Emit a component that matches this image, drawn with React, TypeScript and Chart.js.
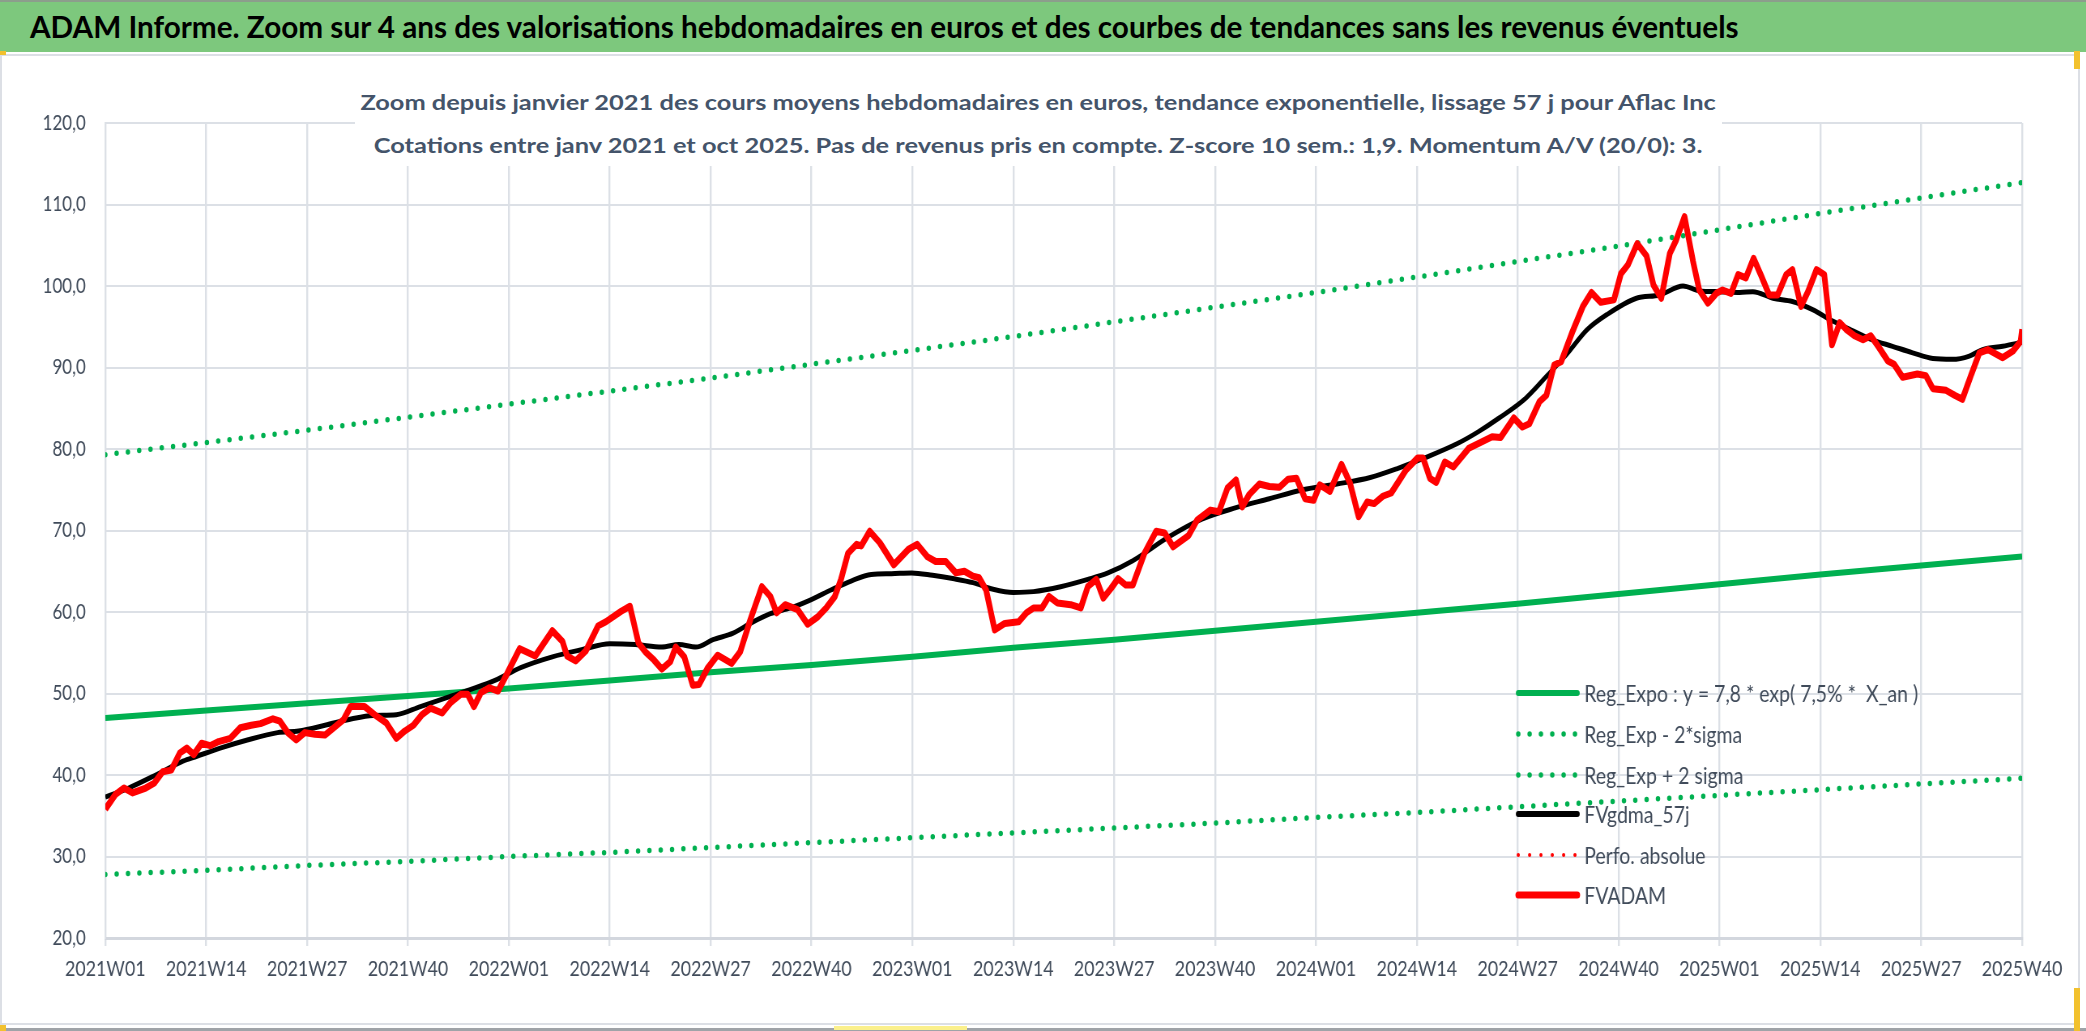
import { Chart, registerables } from 'chart.js';
import { useEffect, useRef } from 'react';

Chart.register(...registerables);

// tick labels, one every 13 weeks (index 0 .. 247)
const weekLabels = [
  '2021W01', '2021W14', '2021W27', '2021W40',
  '2022W01', '2022W14', '2022W27', '2022W40',
  '2023W01', '2023W14', '2023W27', '2023W40',
  '2024W01', '2024W14', '2024W27', '2024W40',
  '2025W01', '2025W14', '2025W27', '2025W40',
];
const tickWeeks = [0, 13, 26, 39, 52, 65, 78, 91, 104, 117, 130, 143, 156, 169, 182, 195, 208, 221, 234, 247];

// regression curves read at each tick
const regExpo = [47.0, 47.9, 48.8, 49.7, 50.6, 51.6, 52.6, 53.5, 54.5, 55.6, 56.6, 57.7, 58.8, 59.9, 61.0, 62.2, 63.4, 64.6, 65.7, 66.8];
const regLow = [27.8, 28.3, 28.9, 29.4, 30.0, 30.5, 31.1, 31.7, 32.3, 32.9, 33.5, 34.1, 34.8, 35.4, 36.1, 36.8, 37.5, 38.2, 38.9, 39.6];
const regHigh = [79.3, 80.8, 82.3, 83.9, 85.5, 87.1, 88.7, 90.4, 92.1, 93.8, 95.6, 97.4, 99.2, 101.1, 103.0, 104.9, 106.9, 108.9, 110.8, 112.7];

// FVADAM weekly valuations
const adamWeeks = [
  0, 1.3, 2.4, 3.5, 5.2, 6.3, 7.4, 8.5, 9.6, 10.5, 11.4, 12.4, 13.5, 14.6, 16.1, 17.4, 18.8, 20, 21.6, 22.5,
  23.5, 24.6, 25.7, 27, 28.3, 29.7, 30.7, 31.6, 33.4, 34.7, 36.2, 37.5, 38.6, 39.7, 40.8, 41.9, 43.4, 44.5, 45.8, 46.7,
  47.5, 48.4, 49.5, 50.6, 51.7, 53.4, 55.4, 57.6, 58.9, 59.5, 60.6, 61.9, 63.5, 64.5, 66.5, 67.6, 68.7, 69.6, 70.7, 71.7,
  72.8, 73.5, 74.6, 75.7, 76.5, 77.6, 78.9, 80.7, 81.8, 83.1, 84.6, 85.7, 86.5, 87.6, 89.2, 90.5, 91.8, 92.9, 94, 94.8,
  95.7, 96.8, 97.4, 98.5, 99.8, 101.6, 103.5, 104.6, 105.9, 107, 108.3, 109.6, 110.7, 111.8, 112.6, 113.5, 114.6, 115.9, 117.7, 118.7,
  119.6, 120.7, 121.6, 122.7, 124.4, 125.7, 126.6, 127.7, 128.6, 129.6, 130.5, 131.5, 132.4, 133.9, 135.4, 136.5, 137.6, 139.6, 140.7, 142.4,
  143.5, 144.6, 145.7, 146.5, 147.4, 148.7, 150, 151.3, 152.4, 153.5, 154.6, 155.7, 156.5, 157.8, 159.3, 160.4, 161.5, 162.6, 163.5, 164.6,
  165.7, 167.6, 169.1, 169.8, 170.7, 171.5, 172.6, 173.7, 175.7, 177.4, 178.7, 179.8, 181.5, 182.6, 183.5, 184.8, 185.7, 186.7, 187.6, 189.1,
  190.4, 191.5, 192.7, 194.4, 195.3, 196.2, 197.4, 198.6, 199.5, 200.5, 201.6, 202.4, 203.5, 204.6, 205.4, 206.5, 207.6, 208.4, 209.5, 210.4,
  211.4, 212.4, 213.4, 214.4, 215.5, 216.6, 217.4, 218.5, 219.4, 220.5, 221.5, 222.5, 223.5, 224.3, 225.4, 226.5, 227.5, 228.6, 229.7, 230.5,
  231.6, 233.5, 234.6, 235.5, 237.2, 238.3, 239.3, 240.4, 241.5, 242.6, 244.5, 245.8, 246.8, 247,
];
const adamValues = [
  35.8, 37.6, 38.4, 37.8, 38.4, 39.0, 40.4, 40.6, 42.7, 43.3, 42.5, 43.9, 43.6, 44.1, 44.5, 45.8, 46.1, 46.3, 46.9, 46.6,
  45.2, 44.3, 45.2, 45.0, 44.9, 46.0, 46.8, 48.4, 48.4, 47.4, 46.4, 44.5, 45.4, 46.1, 47.4, 48.2, 47.6, 48.9, 49.9, 49.9,
  48.4, 50.1, 50.7, 50.3, 52.3, 55.5, 54.6, 57.7, 56.4, 54.6, 54.0, 55.2, 58.3, 58.8, 60.1, 60.7, 56.2, 55.1, 54.1, 53.0,
  53.9, 55.7, 54.5, 51.0, 51.1, 53.1, 54.7, 53.7, 55.1, 59.0, 63.1, 61.9, 59.9, 60.9, 60.3, 58.5, 59.4, 60.5, 61.9, 64.0,
  67.2, 68.3, 68.1, 69.9, 68.5, 65.8, 67.7, 68.3, 66.8, 66.2, 66.2, 64.8, 65.0, 64.4, 64.2, 62.7, 57.8, 58.6, 58.8, 59.9,
  60.5, 60.5, 61.9, 61.1, 60.9, 60.5, 63.1, 64.0, 61.7, 62.9, 64.1, 63.3, 63.3, 67.2, 69.9, 69.7, 68.0, 69.4, 71.3, 72.5,
  72.3, 75.2, 76.2, 72.9, 74.4, 75.7, 75.4, 75.3, 76.3, 76.4, 73.9, 73.7, 75.6, 74.8, 78.1, 75.8, 71.7, 73.5, 73.3, 74.2,
  74.6, 77.4, 78.9, 78.9, 76.4, 75.9, 78.4, 77.8, 80.1, 80.9, 81.5, 81.4, 83.8, 82.7, 83.1, 85.8, 86.6, 90.3, 90.7, 94.5,
  97.5, 99.2, 98.0, 98.3, 101.5, 102.6, 105.2, 103.7, 100.1, 98.5, 104.0, 105.6, 108.5, 103.0, 99.5, 97.9, 99.1, 99.5, 99.1, 101.4,
  101.0, 103.4, 101.2, 98.9, 98.9, 101.4, 102.0, 97.5, 99.3, 102.0, 101.4, 92.8, 95.5, 94.7, 93.9, 93.4, 93.9, 92.4, 90.8, 90.4,
  88.8, 89.2, 89.0, 87.4, 87.2, 86.6, 86.1, 89.0, 91.8, 92.2, 91.2, 92.0, 93.2, 94.7,
];

// FVgdma_57j smoothed curve
const gdmaWeeks = [
  0, 3, 6.5, 10, 11.8, 14.8, 18.3, 22.2, 24.9, 28.3, 31.8, 34.5, 37.5, 40.6, 44, 47.1, 50.2, 53.6, 57.6, 61.5,
  65, 68.3, 71.7, 73.9, 76.1, 78.3, 80.9, 83.1, 85.7, 88.3, 90.9, 93.5, 96.1, 98.7, 101.3, 103.9, 106.6, 109.2, 111.8, 114.4,
  117, 119.6, 123.1, 126.6, 129.2, 132.4, 137, 141.3, 145.7, 150, 154.3, 158.7, 163, 166.5, 170, 174.3, 176.9, 179.6, 183, 185.7,
  188.3, 190.9, 193.5, 197.3, 200.3, 203.3, 205.4, 208, 210.6, 212.3, 214.9, 217.4, 220, 222.6, 225.2, 227.7, 230.3, 232.9, 235.5, 238,
  240.2, 241.9, 244.5, 247,
];
const gdmaValues = [
  37.3, 38.4, 40.0, 41.7, 42.3, 43.3, 44.3, 45.2, 45.4, 46.1, 46.9, 47.3, 47.4, 48.4, 49.5, 50.5, 51.6, 53.2, 54.5, 55.4,
  56.1, 56.0, 55.7, 56.0, 55.7, 56.6, 57.4, 58.6, 59.8, 60.5, 61.5, 62.7, 63.8, 64.6, 64.7, 64.8, 64.5, 64.1, 63.6, 62.8,
  62.4, 62.5, 63.1, 64.0, 64.8, 66.3, 69.2, 71.4, 72.8, 73.9, 75.0, 75.7, 76.5, 77.6, 78.9, 80.7, 82.1, 83.8, 86.2, 88.9,
  91.6, 94.6, 96.5, 98.5, 98.9, 100.0, 99.4, 99.3, 99.2, 99.3, 98.5, 98.1, 97.1, 95.7, 94.5, 93.4, 92.6, 91.8, 91.1, 91.0,
  91.4, 92.2, 92.6, 93.1,
];

const FONT = 'Lato, "Open Sans", sans-serif';
const GREEN = '#00B050';
const TEXT = '#404B5A';

// the Excel picture is squeezed horizontally: canvas is drawn wider and shown narrower
const SX = 0.81;
const CSS_W = 2078;
const CSS_H = 966;
const CANVAS_TOP = 56;
const INT_W = Math.round(CSS_W / SX);

const pts = (xs: number[], ys: number[]) => xs.map((x, i) => ({ x, y: ys[i] }));

const legendItems = [
  { label: 'Reg_Expo : y = 7,8 * exp( 7,5% *  X_an )', color: GREEN, width: 6, dotted: false },
  { label: 'Reg_Exp - 2*sigma', color: GREEN, width: 5.5, dotted: true },
  { label: 'Reg_Exp + 2 sigma', color: GREEN, width: 5.5, dotted: true },
  { label: 'FVgdma_57j', color: '#000000', width: 6, dotted: false },
  { label: 'Perfo. absolue', color: '#FF0000', width: 4, dotted: true },
  { label: 'FVADAM', color: '#FF0000', width: 7, dotted: false },
];
const legendRowsY = [693, 734, 775, 814, 855, 895];

const legendPlugin = {
  id: 'insideLegend',
  afterDraw(chart: Chart) {
    const ctx = chart.ctx;
    const x0 = 1518 / SX;
    const x1 = 1577 / SX;
    const tx = 1584 / SX;
    ctx.save();
    legendItems.forEach((item, i) => {
      const y = legendRowsY[i] - CANVAS_TOP;
      ctx.beginPath();
      ctx.strokeStyle = item.color;
      ctx.lineWidth = item.width;
      ctx.lineCap = 'round';
      ctx.setLineDash(item.dotted ? [0, 14] : []);
      ctx.moveTo(x0, y);
      ctx.lineTo(x1, y);
      ctx.stroke();
      ctx.setLineDash([]);
      ctx.fillStyle = TEXT;
      ctx.font = `24px ${FONT}`;
      ctx.textBaseline = 'alphabetic';
      ctx.textAlign = 'left';
      ctx.fillText(item.label, tx, y + 8.5);
    });
    ctx.restore();
  },
};

const TrendChart = () => {
  const ref = useRef<HTMLCanvasElement>(null);

  useEffect(() => {
    if (ref.current == null) return () => {};
    const chart = new Chart(ref.current, {
      type: 'line',
      data: {
        datasets: [
          {
            label: 'FVADAM',
            data: pts(adamWeeks, adamValues),
            borderColor: '#FF0000',
            borderWidth: 7,
            borderJoinStyle: 'round',
            tension: 0,
          },
          {
            label: 'FVgdma_57j',
            data: pts(gdmaWeeks, gdmaValues),
            borderColor: '#000000',
            borderWidth: 5,
            cubicInterpolationMode: 'monotone',
          },
          {
            label: 'Perfo. absolue',
            data: [],
            borderColor: '#FF0000',
            borderWidth: 4,
            borderDash: [0, 14],
          },
          {
            label: 'Reg_Expo : y = 7,8 * exp( 7,5% *  X_an )',
            data: pts(tickWeeks, regExpo),
            borderColor: GREEN,
            borderWidth: 6,
          },
          {
            label: 'Reg_Exp - 2*sigma',
            data: pts(tickWeeks, regLow),
            borderColor: GREEN,
            borderWidth: 5.5,
            borderDash: [0, 14],
            borderCapStyle: 'round',
          },
          {
            label: 'Reg_Exp + 2 sigma',
            data: pts(tickWeeks, regHigh),
            borderColor: GREEN,
            borderWidth: 5.5,
            borderDash: [0, 14],
            borderCapStyle: 'round',
          },
        ],
      },
      options: {
        animation: false,
        responsive: false,
        devicePixelRatio: 1,
        parsing: false,
        elements: { point: { radius: 0 } },
        layout: { padding: { left: 0, right: 69, top: 67, bottom: 0 } },
        plugins: {
          legend: { display: false },
          tooltip: { enabled: false },
        },
        scales: {
          x: {
            type: 'linear',
            min: 0,
            max: 247,
            afterFit: (scale) => { scale.height = 84; },
            afterBuildTicks: (scale) => {
              scale.ticks = tickWeeks.map((v) => ({ value: v }));
            },
            ticks: {
              autoSkip: false,
              maxRotation: 0,
              padding: 10,
              color: TEXT,
              font: { family: FONT, size: 22 },
              callback: (v) => weekLabels[tickWeeks.indexOf(Number(v))],
            },
            grid: { color: '#DCE0E6', lineWidth: 2.4, tickLength: 8 },
            border: { color: '#D3D7DE', width: 3 },
          },
          y: {
            min: 20,
            max: 120,
            afterFit: (scale) => { scale.width = 130; },
            ticks: {
              stepSize: 10,
              padding: 24,
              color: TEXT,
              font: { family: FONT, size: 21 },
              callback: (v) => Number(v).toFixed(1).replace('.', ','),
            },
            grid: { color: '#DCE0E6', lineWidth: 2, drawTicks: false },
            border: { color: '#DCE0E6', width: 2 },
          },
        },
      },
      plugins: [legendPlugin],
    });
    return () => {
      chart.destroy();
    };
  }, []);

  return (
    <canvas
      ref={ref}
      width={INT_W}
      height={CSS_H}
      style={{ position: 'absolute', left: 0, top: CANVAS_TOP, width: CSS_W, height: CSS_H }}
    />
  );
};

const titleLine = { display: 'inline-block', transform: 'scaleX(1.21)', transformOrigin: 'center' };

const App = () => {
  return (
    <div style={{ position: 'absolute', left: 0, top: 0, width: 2086, height: 1031, background: '#FFFFFF', overflow: 'hidden' }}>
      <div
        style={{
          position: 'absolute', left: 0, top: 0, width: 2086, height: 52,
          background: '#7DC87D', borderTop: '2px solid #8C9E8C', boxSizing: 'border-box',
          fontFamily: FONT, fontWeight: 700, fontSize: 29.7, lineHeight: '50px',
          color: '#000000', paddingLeft: 30, whiteSpace: 'nowrap',
        }}
      >
        ADAM Informe. Zoom sur 4 ans des valorisations hebdomadaires en euros et des courbes de tendances sans les revenus éventuels
      </div>
      <div
        style={{
          position: 'absolute', left: 0, top: 54, width: 2080, height: 971,
          border: '2px solid #DCDFE5', boxSizing: 'border-box',
        }}
      />
      <TrendChart />
      <div
        style={{
          position: 'absolute', left: 355, top: 80, width: 1367, height: 86,
          background: '#FFFFFF', textAlign: 'center', color: '#44546A',
          fontFamily: FONT, fontWeight: 700, fontSize: 21, lineHeight: '43px', whiteSpace: 'nowrap',
        }}
      >
        <div><span style={titleLine}>Zoom depuis janvier 2021 des cours moyens hebdomadaires en euros, tendance exponentielle, lissage 57 j pour Aflac Inc</span></div>
        <div><span style={titleLine}>Cotations entre janv 2021 et oct 2025. Pas de revenus pris en compte. Z-score 10 sem.: 1,9. Momentum A/V (20/0): 3.</span></div>
      </div>
      <div style={{ position: 'absolute', left: 0, top: 1028, width: 2086, height: 3, background: '#9FA3A8' }} />
      <div style={{ position: 'absolute', left: 0, top: 51, width: 6, height: 4, background: '#F2C12E' }} />
      <div style={{ position: 'absolute', left: 2074, top: 51, width: 6, height: 18, background: '#F2C12E' }} />
      <div style={{ position: 'absolute', left: 0, top: 1025, width: 6, height: 6, background: '#F2C12E' }} />
      <div style={{ position: 'absolute', left: 2074, top: 988, width: 6, height: 43, background: '#F2C12E' }} />
      <div style={{ position: 'absolute', left: 834, top: 1026, width: 133, height: 4, background: '#FBF08C' }} />
    </div>
  );
};

export default App;
